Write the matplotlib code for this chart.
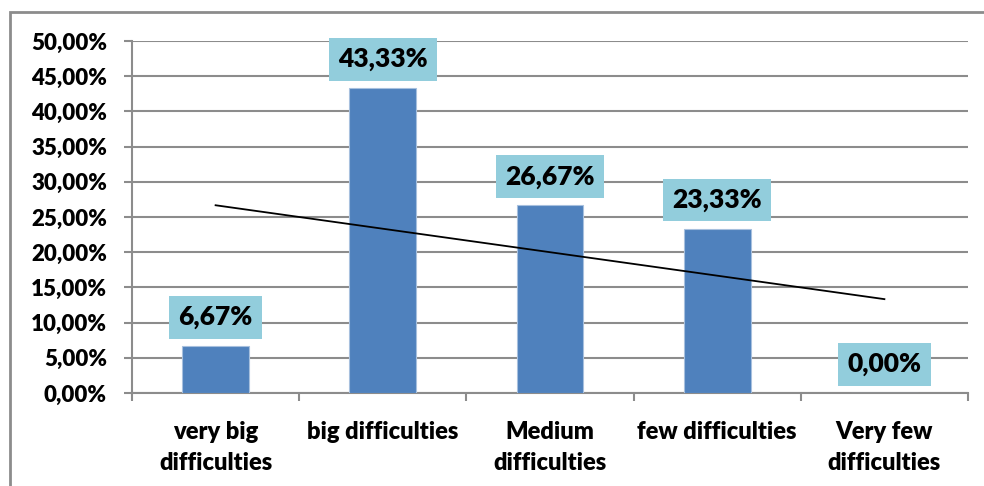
import matplotlib
matplotlib.use("Agg")
import matplotlib.pyplot as plt
import numpy as np
from matplotlib.patches import Rectangle
from matplotlib.ticker import FuncFormatter, MultipleLocator, FixedLocator

categories = ["very big\ndifficulties", "big difficulties", "Medium\ndifficulties",
              "few difficulties", "Very few\ndifficulties"]
values = [0.0667, 0.4333, 0.2667, 0.2333, 0.0]
value_labels = ["6,67%", "43,33%", "26,67%", "23,33%", "0,00%"]

FONT = "Lato"
W = "heavy"
BAR = "#4F81BD"
BOX = "#92CDDC"
GRID = "#8C8C8C"

fig = plt.figure(figsize=(9.84, 4.86), dpi=100)
ax = fig.add_axes([132/984, 93/486, 836/984, 352/486])

x = np.arange(len(categories))
ax.bar(x, values, width=0.4, color=BAR, edgecolor="#A7C0DE", linewidth=0.8, zorder=3)

# linear trend line
coef = np.polyfit(x, values, 1)
ax.plot(x, np.polyval(coef, x), color="black", linewidth=1.3, zorder=4)

for xi, v, lab in zip(x, values, value_labels):
    ax.annotate(lab, (xi, v), xytext=(0, 12), textcoords="offset points",
                ha="center", va="bottom", fontsize=19, fontweight=W,
                family=FONT, color="black", zorder=5,
                bbox=dict(boxstyle="square,pad=0.35", fc=BOX, ec="none"))

ax.set_xlim(-0.5, 4.5)
ax.set_ylim(0, 0.5)
ax.yaxis.set_major_locator(MultipleLocator(0.05))
ax.yaxis.set_major_formatter(FuncFormatter(lambda v, p: f"{v*100:.2f}%".replace(".", ",")))
ax.grid(axis="y", color=GRID, linewidth=1.5, zorder=0)
ax.set_axisbelow(True)

ax.set_xticks(x)
ax.set_xticklabels(categories, fontsize=17, fontweight=W, family=FONT, linespacing=1.5)
ax.xaxis.set_minor_locator(FixedLocator(np.arange(-0.5, 5, 1)))
ax.tick_params(axis="x", which="major", length=0, pad=20)
ax.tick_params(axis="x", which="minor", length=6, width=1.5, color=GRID)
ax.tick_params(axis="y", length=6, width=1.5, color=GRID, pad=12)
for t in ax.get_yticklabels():
    t.set_fontsize(16); t.set_fontweight(W); t.set_family(FONT)

for s in ["top", "right"]:
    ax.spines[s].set_visible(False)
for s in ["left", "bottom"]:
    ax.spines[s].set_color(GRID)
    ax.spines[s].set_linewidth(1.5)

fig.patches.append(Rectangle((10/984, -0.1), 1.1, (486-12)/486 + 0.1, transform=fig.transFigure,
                             fill=False, ec="#8C8C8C", lw=2))

fig.savefig("out.png", dpi=100)
